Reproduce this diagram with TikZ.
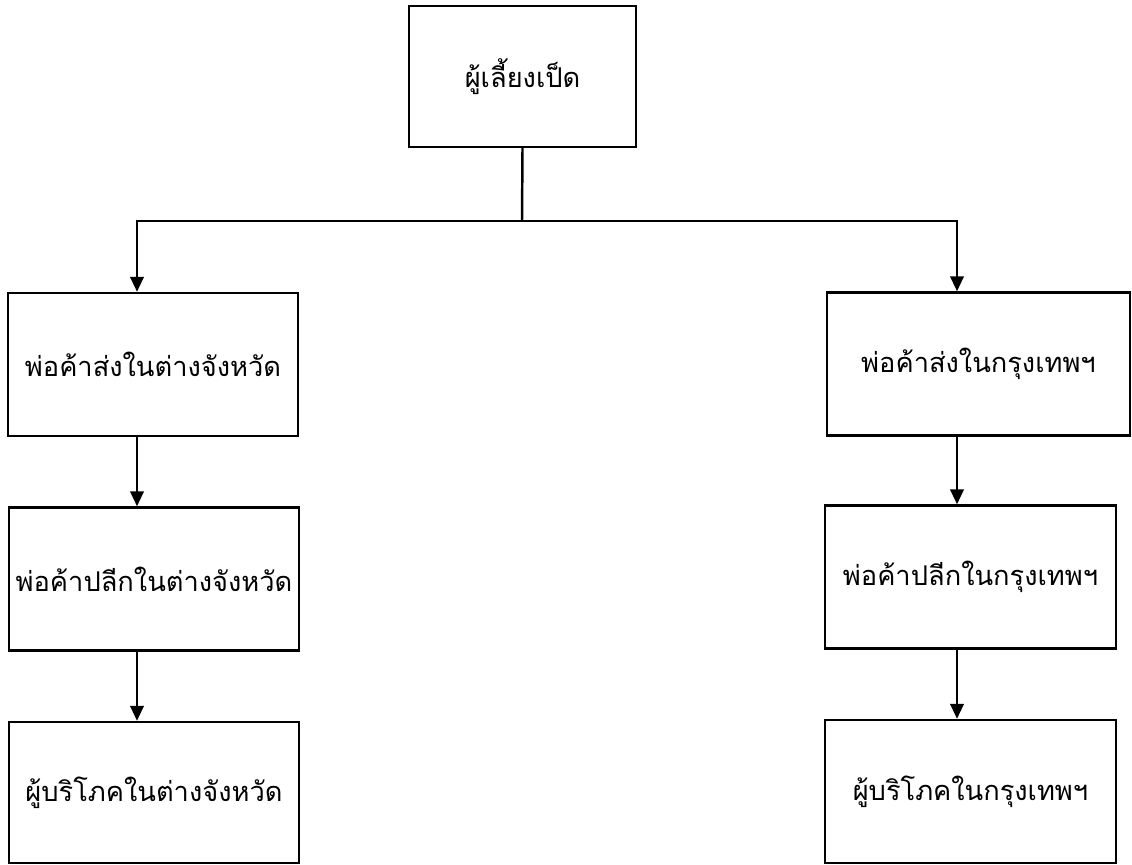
\documentclass[tikz,border=0pt]{standalone}
\usepackage{fontspec}
\newfontfamily\thaifont[Script=Thai]{Loma}
\usetikzlibrary{arrows.meta}
\begin{document}
\begin{tikzpicture}[x=0.02cm, y=-0.02cm, line width=1.4pt,
		font=\thaifont\fontsize{15.5}{19}\selectfont,
		box/.style={draw, rectangle, inner sep=0pt, minimum width=5.8cm, minimum height=2.86cm},
		arr/.style={-{Triangle[length=0.3cm, width=0.27cm]}}]
		\useasboundingbox (0,0) rectangle (1132,865);
		\node[box, minimum width=4.54cm, minimum height=2.82cm] (farmer) at (522.5,76.5) {ผู้เลี้ยงเป็ด};
		\node[box] (provwhole) at (153,364.5) {พ่อค้าส่งในต่างจังหวัด};
		\node[box] (provretail) at (154,579) {พ่อค้าปลีกในต่างจังหวัด};
		\node[box, minimum height=2.82cm] (provbuyer) at (154,792.5) {ผู้บริโภคในต่างจังหวัด};
		\node[box, minimum width=6.06cm] (bkkwhole) at (978.5,364) {พ่อค้าส่งในกรุงเทพฯ};
		\node[box, minimum width=5.82cm] (bkkretail) at (970.5,577) {พ่อค้าปลีกในกรุงเทพฯ};
		\node[box, minimum width=5.82cm] (bkkbuyer) at (970.5,791.5) {ผู้บริโภคในกรุงเทพฯ};
		\coordinate (split) at (522,221);
		\coordinate (provline) at (137,221);
		\coordinate (bkkline) at (957,221);
		\draw (farmer.south) -- (split);
		\draw[arr] (split) -- (provline) -- (provline |- provwhole.north);
		\draw[arr] (split) -- (bkkline) -- (bkkline |- bkkwhole.north);
		\draw[arr] (provwhole.south -| provline) -- (provretail.north -| provline);
		\draw[arr] (provretail.south -| provline) -- (provbuyer.north -| provline);
		\draw[arr] (bkkwhole.south -| bkkline) -- (bkkretail.north -| bkkline);
		\draw[arr] (bkkretail.south -| bkkline) -- (bkkbuyer.north -| bkkline);
	\end{tikzpicture}
\end{document}
